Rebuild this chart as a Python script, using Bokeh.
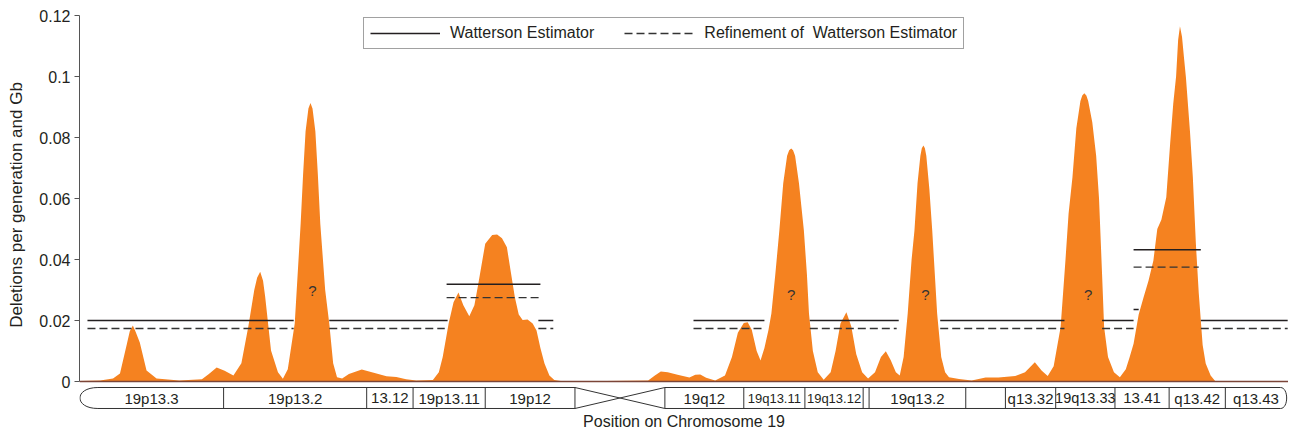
from bokeh.plotting import figure
from bokeh.models import Range1d, FixedTicker, Legend, LegendItem, Title, Span
from bokeh.core.properties import value
from bokeh.embed import file_html
from bokeh.resources import INLINE

FONT = "Liberation Sans"
ORANGE = "#F58220"
INK = "#231f20"

# ---------------- data ----------------
# position on chromosome 19 (Mb) and deletion rate (per generation and Gb)
pos_mb = [0.00, 1.01, 1.64, 1.98, 2.32, 2.46, 2.61, 2.75, 2.95, 3.28, 3.77, 4.88,
          5.99, 6.33, 6.71, 7.10, 7.53, 7.92, 8.26, 8.55, 8.69, 8.84, 8.98, 9.08,
          9.37, 9.71, 9.95, 10.19, 10.53, 10.82, 10.94, 11.06, 11.20, 11.30, 11.40,
          11.54, 11.66, 11.78,
          12.02, 12.22, 12.41, 12.60, 12.85, 13.18, 13.81, 14.44, 15.02, 15.50,
          15.98, 16.47, 17.29, 17.58, 17.77, 18.06, 18.30, 18.54, 18.78, 19.07,
          19.32, 19.51, 19.85, 20.19, 20.43, 20.67, 20.91, 21.10, 21.30, 21.49,
          21.68, 21.92, 22.17, 22.36, 22.55, 22.75, 22.99, 23.23, 23.71, 27.82,
          28.15, 28.44, 28.78, 29.26, 29.84, 30.13, 30.37, 30.66, 31.10, 31.58,
          31.92, 32.21, 32.50, 32.69, 32.89, 33.13, 33.32, 33.51, 33.71, 33.85,
          34.04, 34.24, 34.43, 34.62, 34.72, 34.82, 34.91, 35.01, 35.20, 35.44, 35.59, 35.69,
          35.88, 36.12, 36.41, 36.75, 36.99, 37.23, 37.52, 37.76, 38.00, 38.29,
          38.58, 38.92, 39.21, 39.45, 39.69, 39.94, 40.13, 40.32, 40.52, 40.71,
          40.85, 41.00, 41.14, 41.21, 41.29, 41.36, 41.43, 41.58, 41.72, 41.96, 42.16, 42.35,
          42.54, 43.03, 43.65, 44.33, 44.96, 45.78, 46.26, 46.74, 47.08, 47.37,
          47.66, 48.00, 48.24, 48.39, 48.58, 48.77, 48.97, 49.06, 49.16, 49.26, 49.35, 49.55,
          49.74, 49.88, 50.03, 50.13, 50.32, 50.61, 50.90, 51.19, 51.38, 51.57,
          51.82, 52.06, 52.30, 52.54, 52.73, 52.93, 53.17, 53.36, 53.51, 53.65,
          53.75, 53.84, 53.94, 54.04, 54.13, 54.33, 54.47, 54.62, 54.76, 54.95,
          55.10, 55.34, 55.58, 59.11]
deletion_rate = [0.0002, 0.0003, 0.0010, 0.0026, 0.0124, 0.0165, 0.0184, 0.0162, 0.0128, 0.0036, 0.0010, 0.0003,
                 0.0007, 0.0025, 0.0046, 0.0035, 0.0020, 0.0060, 0.0180, 0.0300, 0.0340, 0.0360, 0.0330, 0.0280,
                 0.0102, 0.0030, 0.0009, 0.0040, 0.0190, 0.0518, 0.0680, 0.0820, 0.0895, 0.0913, 0.0895,
                 0.0820, 0.0680, 0.0518,
                 0.0300, 0.0190, 0.0060, 0.0014, 0.0010, 0.0025, 0.0039, 0.0028, 0.0017, 0.0015,
                 0.0007, 0.0003, 0.0005, 0.0030, 0.0080, 0.0190, 0.0260, 0.0292, 0.0250, 0.0214,
                 0.0250, 0.0320, 0.0452, 0.0480, 0.0482, 0.0470, 0.0440, 0.0360, 0.0276, 0.0220,
                 0.0202, 0.0203, 0.0190, 0.0167, 0.0110, 0.0059, 0.0020, 0.0005, 0.0000, 0.0003,
                 0.0020, 0.0033, 0.0030, 0.0022, 0.0013, 0.0022, 0.0023, 0.0012, 0.0003, 0.0020,
                 0.0080, 0.0160, 0.0192, 0.0194, 0.0170, 0.0100, 0.0069, 0.0110, 0.0170, 0.0223,
                 0.0350, 0.0495, 0.0650, 0.0740, 0.0758, 0.0764, 0.0758, 0.0740, 0.0650, 0.0495, 0.0350, 0.0223,
                 0.0100, 0.0030, 0.0006, 0.0030, 0.0100, 0.0190, 0.0227, 0.0180, 0.0090, 0.0030,
                 0.0010, 0.0030, 0.0080, 0.0099, 0.0070, 0.0030, 0.0020, 0.0080, 0.0223, 0.0400,
                 0.0495, 0.0650, 0.0740, 0.0765, 0.0774, 0.0765, 0.0740, 0.0630, 0.0495, 0.0223, 0.0080, 0.0030,
                 0.0014, 0.0008, 0.0003, 0.0013, 0.0013, 0.0018, 0.0030, 0.0063, 0.0035, 0.0018,
                 0.0050, 0.0178, 0.0400, 0.0550, 0.0670, 0.0830, 0.0920, 0.0938, 0.0945, 0.0938, 0.0920, 0.0850,
                 0.0740, 0.0600, 0.0350, 0.0178, 0.0080, 0.0030, 0.0014, 0.0040, 0.0080, 0.0124,
                 0.0220, 0.0276, 0.0330, 0.0397, 0.0500, 0.0530, 0.0604, 0.0780, 0.0910, 0.1000,
                 0.1120, 0.1165, 0.1130, 0.1060, 0.0998, 0.0820, 0.0670, 0.0450, 0.0289, 0.0120,
                 0.0059, 0.0020, 0.0000, 0.0000]

# Watterson estimator, per region (start Mb, end Mb, value)
watterson_start = [0.39, 12.22, 17.96, 22.45, 30.04, 35.73, 42.11, 50.03, 51.57, 51.57, 54.86]
watterson_end = [10.48, 18.01, 22.55, 23.18, 33.51, 40.08, 48.19, 51.57, 54.86, 51.82, 59.11]
watterson_value = [0.0200, 0.0200, 0.0319, 0.0200, 0.0200, 0.0200, 0.0200, 0.0200, 0.0432, 0.0236, 0.0200]

# refinement of Watterson estimator
refined_start = [0.39, 12.22, 17.96, 22.45, 30.04, 35.73, 42.11, 50.03, 51.57, 54.86]
refined_end = [10.48, 17.87, 22.55, 23.18, 33.51, 39.98, 48.19, 51.57, 54.76, 59.11]
refined_value = [0.0174, 0.0174, 0.0275, 0.0174, 0.0174, 0.0174, 0.0174, 0.0174, 0.0375, 0.0174]

# question marks over unresolved peaks
unknown_pos = [11.40, 34.82, 41.39, 49.35]
unknown_value = [0.0298, 0.0285, 0.0285, 0.0285]
unknown_text = ["?", "?", "?", "?"]

# cytogenetic bands of chromosome 19 (Mb)
band_start = [0.00, 7.05, 14.05, 16.32, 19.85, 28.64, 32.50, 35.49, 38.34, 38.63,
              43.36, 45.30, 47.76, 50.66, 53.31, 56.06]
band_end = [7.05, 14.05, 16.32, 19.85, 24.24, 32.50, 35.49, 38.34, 38.63, 43.36,
            45.30, 47.76, 50.66, 53.31, 56.06, 59.06]
band_name = ["19p13.3", "19p13.2", "13.12", "19p13.11", "19p12", "19q12", "19q13.11",
             "19q13.12", "", "19q13.2", "", "q13.32", "19q13.33", "13.41", "q13.42", "q13.43"]
p_arm_end = 24.24
q_arm_start = 28.64

tick_values = [0, 0.02, 0.04, 0.06, 0.08, 0.1, 0.12]
tick_labels = ["0", "0.02", "0.04", "0.06", "0.08", "0.1", "0.12"]

# ---------------- figure ----------------
PX_PER_UNIT = 3050.0
ZERO_PX = 381
FRAME_BOTTOM = 409
p = figure(width=1288, height=430, x_range=Range1d(0, 59.15),
           y_range=Range1d(-(FRAME_BOTTOM - ZERO_PX) / PX_PER_UNIT, ZERO_PX / PX_PER_UNIT),
           x_axis_location=None, output_backend="svg", toolbar_location=None,
           min_border_left=79, min_border_right=0, min_border_top=0,
           min_border_bottom=430 - FRAME_BOTTOM)
p.outline_line_color = None
p.xgrid.visible = False
p.ygrid.visible = False
p.background_fill_color = "white"
p.border_fill_color = "white"

ax = p.yaxis[0]
ax.bounds = (0, 0.12)
ax.ticker = FixedTicker(ticks=tick_values)
ax.major_label_overrides = {v: s for v, s in zip(tick_values, tick_labels)}
ax.axis_line_color = "#555555"
ax.major_tick_line_color = "#555555"
ax.minor_tick_line_color = None
ax.major_tick_out = 5
ax.major_tick_in = 0
ax.major_label_standoff = 4
ax.major_label_text_font = FONT
ax.major_label_text_font_size = "16px"
ax.major_label_text_color = INK
ax.axis_label = "Deletions per generation and Gb"
ax.axis_label_text_font = FONT
ax.axis_label_text_font_size = "17px"
ax.axis_label_text_font_style = "normal"
ax.axis_label_text_color = INK
ax.axis_label_standoff = 10

# deletion density
p.varea(x=pos_mb, y1=0, y2=deletion_rate, fill_color=ORANGE)
p.add_layout(Span(location=0, dimension="width", line_color="#7b4538", line_width=1.5))

# estimator lines
r_w = p.segment(x0=watterson_start, y0=watterson_value, x1=watterson_end, y1=watterson_value,
                line_color=INK, line_width=1.4)
r_r = p.segment(x0=refined_start, y0=refined_value, x1=refined_end, y1=refined_value,
                line_color="#333333", line_width=1.4, line_dash="8 4")

p.text(x=unknown_pos, y=unknown_value, text=unknown_text, text_align="center",
       text_baseline="middle", text_font=value(FONT), text_font_size="15px", text_color="#333333")

# ---------------- chromosome ideogram ----------------
top, bot = -0.00197, -0.00885
mid = (top + bot) / 2
cap_l, cap_r = 0.9, 0.3
edge = "#333333"

# horizontal outlines of both arms
hx0 = [band_start[0] + cap_l, band_start[0] + cap_l, q_arm_start, q_arm_start]
hx1 = [p_arm_end, p_arm_end, band_end[-1] - cap_r, band_end[-1] - cap_r]
hy = [top, bot, top, bot]
p.segment(x0=hx0, y0=hy, x1=hx1, y1=hy, line_color=edge, line_width=1)

# band boundaries
vx = band_start[1:] + [p_arm_end]
p.segment(x0=vx, y0=[top] * len(vx), x1=vx, y1=[bot] * len(vx), line_color=edge, line_width=1)

# centromere cross
p.segment(x0=[p_arm_end, p_arm_end], y0=[top, bot], x1=[q_arm_start, q_arm_start], y1=[bot, top],
          line_color=edge, line_width=1)

# rounded telomere ends
lx = band_start[0] + cap_l
lc = lx + (band_start[0] + 0.02 - lx) / 0.75
rx = band_end[-1] - cap_r
rc = rx + (band_end[-1] - rx) / 0.75
p.bezier(x0=[lx, rx], y0=[top, top], x1=[lx, rx], y1=[bot, bot],
         cx0=[lc, rc], cy0=[top, top], cx1=[lc, rc], cy1=[bot, bot],
         line_color=edge, line_width=1)

small = {"19q13.11", "19q13.12"}
for s, e, name in zip(band_start, band_end, band_name):
    if not name:
        continue
    if name in small:
        size = "13px"
    elif name == "19q13.33":
        size = "14.5px"
    else:
        size = "15px"
    p.text(x=[(s + e) / 2], y=[mid], text=[name], text_align="center", text_baseline="middle",
           text_font=value(FONT), text_font_size=size, text_color=INK)

# x label
p.add_layout(Title(text="Position on Chromosome 19", align="center", offset=-12,
                   text_font=FONT, text_font_size="16px", text_font_style="normal",
                   text_color=INK, standoff=2), "below")

legend = Legend(items=[LegendItem(label="Watterson Estimator", renderers=[r_w]),
                       LegendItem(label="Refinement of  Watterson Estimator", renderers=[r_r])],
                location=(284, FRAME_BOTTOM - 49), orientation="horizontal",
                glyph_width=70, glyph_height=14,
                label_standoff=10, spacing=30, padding=6, margin=0, label_height=17,
                label_text_font=FONT, label_text_font_size="16px", label_text_color=INK,
                border_line_color="#444444", border_line_width=1,
                background_fill_color="white", background_fill_alpha=1.0)
p.add_layout(legend)

open("out.html", "w").write(file_html(p, INLINE))
